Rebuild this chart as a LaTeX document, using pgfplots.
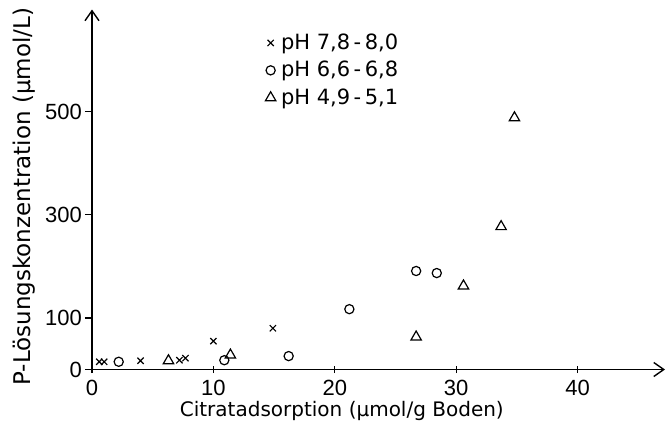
\documentclass[border=0pt]{standalone}
\usepackage{pgfplots}
\pgfplotsset{compat=1.18}
\usetikzlibrary{arrows.meta}
\usepackage{fontspec}
\setmainfont{DejaVu Sans}
\newfontfamily\tickfont{Liberation Sans}
\begin{document}
\begin{tikzpicture}
\path (-46pt,-30.25pt) rectangle (287pt,184.75pt);
\begin{axis}[
  scale only axis,
  width=286.5pt, height=180pt,
  axis lines=left,
  xmin=0, xmax=47.2, ymin=0, ymax=698,
  xtick={0,10,20,30,40},
  ytick={0,100,300,500},
  major tick length=3.5pt,
  tick style={black, line width=0.6pt},
  xtick align=center,
  ytick align=outside,
  tick label style={font=\tickfont\fontsize{11}{13}\selectfont},
  yticklabel style={xshift=2pt},
  /pgf/number format/assume math mode=true,
  xlabel={Citratadsorption (µmol/g Boden)},
  ylabel={P-Lösungskonzentration (µmol/L)},
  xlabel style={font=\fontsize{10}{12}\selectfont, at={(ticklabel cs:0.436)}, yshift=4pt},
  ylabel style={font=\fontsize{11.5}{13}\selectfont, at={(ticklabel cs:0.48)}, yshift=-2pt},
  axis line style={line width=0.7pt, -{Straight Barb[length=5pt,width=7pt,line width=0.7pt]}},
  legend style={at={(0.302,0.934)}, anchor=north west, draw=none, fill=none,
    font=\fontsize{10.5}{12}\selectfont, row sep=4.4pt, inner sep=0pt,
    nodes={inner xsep=2.6pt, inner ysep=0pt}},
  legend cell align=left,
  legend image code/.code={\draw[mark repeat=2,mark phase=2] plot coordinates {(0cm,0cm) (0.15cm,0cm) (0.3cm,0cm)};},
]
\addplot[only marks, mark=x, mark size=2.2pt, black, line width=0.6pt] coordinates {
(0.6,15) (1.0,15) (4.0,17) (7.2,18) (7.7,22) (10.0,55) (14.9,80)
};
\addlegendentry{pH 7,8\,-\,8,0}
\addplot[only marks, mark=o, mark size=2.3pt, black, line width=0.6pt] coordinates {
(2.2,15) (10.9,18) (16.2,26) (21.2,117) (26.7,191) (28.4,187)
};
\addlegendentry{pH 6,6\,-\,6,8}
\addplot[only marks, mark=triangle, mark size=3pt, black, line width=0.6pt] coordinates {
(6.3,17) (11.4,28) (26.7,63) (30.6,162) (33.7,277) (34.8,488)
};
\addlegendentry{pH 4,9\,-\,5,1}
\end{axis}
\end{tikzpicture}
\end{document}
